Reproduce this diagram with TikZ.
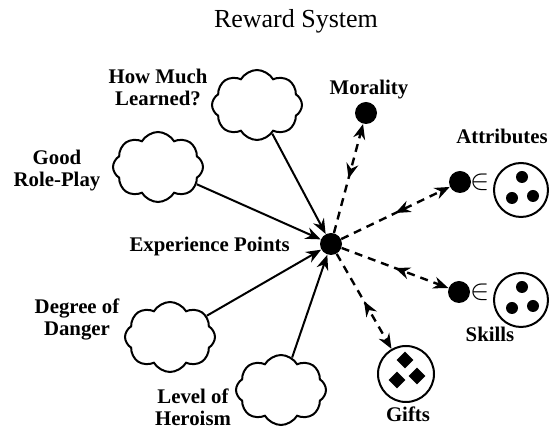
\documentclass[tikz,border=0pt]{standalone}
\usepackage{fontspec}
\setmainfont{Liberation Serif}
\usepackage{tikz}
\usetikzlibrary{arrows.meta,shapes.symbols,shapes.geometric,decorations.markings}

\begin{document}
\begin{tikzpicture}[
        x=0.5pt, y=-0.5pt,
        >={Stealth[length=7.5pt,width=6pt]},
        % --- node styles ---
        lbl/.style={font=\fontsize{10.4}{11}\selectfont\bfseries, align=center, inner sep=0pt},
        bigdot/.style={circle, fill=black, minimum size=11pt, inner sep=0pt},
        smalldot/.style={circle, fill=black, minimum size=6pt, inner sep=0pt},
        gem/.style={diamond, fill=black, minimum size=8.5pt, inner sep=0pt},
        elem/.style={font=\fontsize{15}{15}\selectfont, inner sep=0pt},
        setring/.style={circle, draw, line width=1pt, minimum size=27pt, inner sep=0pt},
        cloudbox/.style={
            cloud, cloud puffs=8, cloud puff arc=120, aspect=1.3,
            draw, line width=1pt, minimum width=45pt, minimum height=35pt
        },
        % --- edge styles ---
        feed/.style={->, line width=1pt},
        link/.style={->, line width=1.2pt, dash pattern=on 4pt off 3pt,
            postaction={decorate},
            decoration={markings, mark=at position 0.5 with {\arrowreversed{Stealth[length=7.5pt,width=6pt]}}}
        }
    ]
    \useasboundingbox (0,0) rectangle (558,432);

    % --- title ---
    \node[font=\fontsize{13}{15}\selectfont] (title) at (296,21) {Reward System};

    % --- hub ---
    \node[bigdot] (hub) at (331,244) {};
    \node[lbl, anchor=east] (hublbl) at (290,247) {Experience Points};

    % --- clouds ---
    \node[cloudbox] (learn) at (257,105) {};
    \node[cloudbox] (roleplay) at (158,167) {};
    \node[cloudbox] (danger) at (170,337) {};
    \node[cloudbox] (heroism) at (281,390) {};

    \node[lbl] (learnlbl) at (158,87) {How Much\\Learned?};
    \node[lbl] (rolelbl) at (57,171) {Good\\Role-Play};
    \node[lbl] (dangerlbl) at (77,319) {Degree of\\Danger};
    \node[lbl] (herolbl) at (193,407) {Level of\\Heroism};

    % --- morality ---
    \node[bigdot] (moral) at (366,113) {};
    \node[lbl] (morallbl) at (369,90) {Morality};

    % --- attributes ---
    \node[bigdot] (attr) at (460,182) {};
    \node[elem] (attrin) at (480,182) {$\in$};
    \node[setring] (attrset) at (521,190) {};
    \node[smalldot] at ([shift={(1,-13)}]attrset) {};
    \node[smalldot] at ([shift={(-9,8)}]attrset) {};
    \node[smalldot] at ([shift={(12,6)}]attrset) {};
    \node[lbl] (attrlbl) at (502,136) {Attributes};

    % --- skills ---
    \node[bigdot] (skill) at (459,292) {};
    \node[elem] (skillin) at (480,292) {$\in$};
    \node[setring] (skillset) at (521,300) {};
    \node[smalldot] at ([shift={(1,-13)}]skillset) {};
    \node[smalldot] at ([shift={(-9,8)}]skillset) {};
    \node[smalldot] at ([shift={(12,6)}]skillset) {};
    \node[lbl] (skilllbl) at (490,334) {Skills};

    % --- gifts ---
    \node[setring, minimum size=28pt] (gifts) at (406,374) {};
    \node[gem] at ([shift={(-1,-14)}]gifts) {};
    \node[gem] at ([shift={(-9,6)}]gifts) {};
    \node[gem] at ([shift={(11,2)}]gifts) {};
    \node[lbl] (giftslbl) at (408,414) {Gifts};

    % ===== inputs into experience =====
    \draw[feed] (learn) -- (hub);
    \draw[feed] (roleplay) -- (hub);
    \draw[feed] (danger) -- (hub);
    \draw[feed] (heroism) -- (hub);

    % ===== exchanges =====
    \draw[link] (hub) -- (moral);
    \draw[link] (hub) -- (attr);
    \draw[link] (hub) -- (skill);
    \draw[link] (hub) -- (gifts);
\end{tikzpicture}
\end{document}
